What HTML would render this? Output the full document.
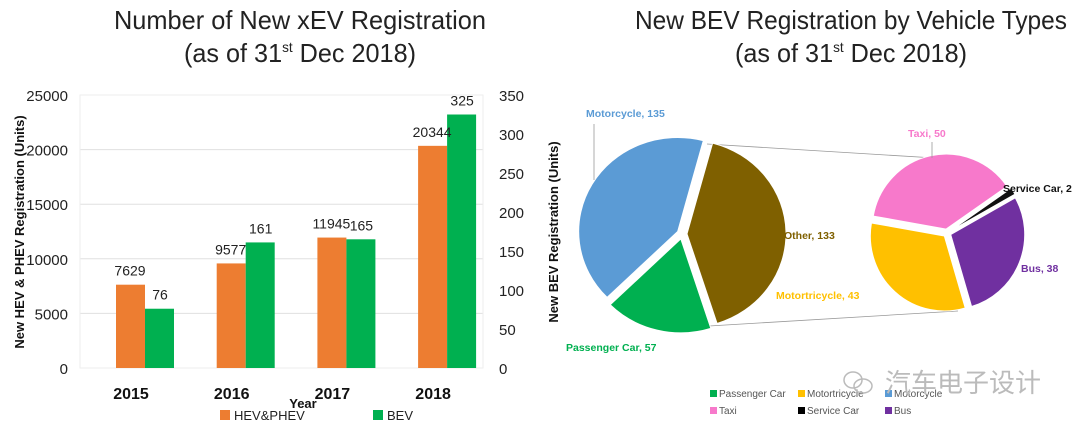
<!DOCTYPE html>
<html><head><meta charset="utf-8"><style>
html,body{margin:0;padding:0;background:#fff;}
svg{display:block;font-family:"Liberation Sans","Noto Sans CJK SC",sans-serif;}
</style></head><body>
<svg id="s" width="1080" height="431" viewBox="0 0 1080 431">
<text x="300" y="29" font-size="26" text-anchor="middle" textLength="372" lengthAdjust="spacingAndGlyphs" fill="#222">Number of New xEV  Registration</text>
<text x="300" y="62" font-size="26" text-anchor="middle" textLength="232" lengthAdjust="spacingAndGlyphs" fill="#222">(as of 31<tspan font-size="14" dy="-10">st</tspan><tspan dy="10"> Dec 2018)</tspan></text>
<text x="851" y="29" font-size="26" text-anchor="middle" textLength="432" lengthAdjust="spacingAndGlyphs" fill="#222">New BEV Registration by Vehicle Types</text>
<text x="851" y="62" font-size="26" text-anchor="middle" textLength="232" lengthAdjust="spacingAndGlyphs" fill="#222">(as of 31<tspan font-size="14" dy="-10">st</tspan><tspan dy="10"> Dec 2018)</tspan></text>
<g id="bar"></g>
<g id="pie"></g>
<text x="885" y="392" font-size="26" fill="#bbb">汽车电子设计</text>
<g fill="none" stroke="#bbb" stroke-width="1.5"><ellipse cx="853" cy="380" rx="9" ry="8"/><ellipse cx="863" cy="386" rx="9" ry="7"/></g>
</svg>
<script>
const NS="http://www.w3.org/2000/svg";
function mk(p,t,a){const e=document.createElementNS(NS,t);for(const k in a)e.setAttribute(k,a[k]);p.appendChild(e);return e;}
// ---- bar chart data ----
const years=["2015","2016","2017","2018"];
const hevValues=[7629,9577,11945,20344];
const bevValues=[76,161,165,325];
const leftTicks=[0,5000,10000,15000,20000,25000];
const rightTicks=[0,50,100,150,200,250,300,350];
// ---- pie data ----
const mainLabels=["Other","Passenger Car","Motorcycle"];
const mainValues=[133,57,135];
const subLabels=["Taxi","Service Car","Bus","Motortricycle"];
const subValues=[50,2,38,43];

const B=document.getElementById('bar');
const x0=80,x1=483,yb=368,yt=95;
const yL=v=>yb-(v/25000)*(yb-yt);
const yR=v=>yb-(v/350)*(yb-yt);
const cx=i=>145+i*100.7;
leftTicks.forEach(t=>{
 if(t>0){const l=mk(B,'line',{x1:x0,x2:x1,y1:yL(t),y2:yL(t),stroke:'#e0e0e0','stroke-width':1});
 }
 const tx=mk(B,'text',{x:68,y:yL(t)+6,'font-size':15,'text-anchor':'end',fill:'#222'});tx.textContent=t;
 
});
const ax=mk(B,'line',{x1:x0,x2:x1,y1:yb,y2:yb,stroke:'#d0d0d0'});

const fr=mk(B,'rect',{x:x0,y:yt,width:x1-x0,height:yb-yt,fill:'none',stroke:'#eee'});

rightTicks.forEach(t=>{
 const tx=mk(B,'text',{x:499,y:yR(t)+6,'font-size':15,fill:'#222'});tx.textContent=t;
 
});
years.forEach((y,i)=>{
 const c=cx(i);
 const r1=mk(B,'rect',{x:c-29,y:yL(hevValues[i]),width:29,height:yb-yL(hevValues[i]),fill:'#ed7d31'});
 
 const r2=mk(B,'rect',{x:c,y:yR(bevValues[i]),width:29,height:yb-yR(bevValues[i]),fill:'#00b050'});
 
 const l1=mk(B,'text',{x:c-15,y:yL(hevValues[i])-9,'font-size':14,'text-anchor':'middle',fill:'#222'});l1.textContent=hevValues[i];
 
 const l2=mk(B,'text',{x:c+15,y:yR(bevValues[i])-9,'font-size':14,'text-anchor':'middle',fill:'#222'});l2.textContent=bevValues[i];
 
 const yl=mk(B,'text',{x:c-14,y:399,'font-size':16,'font-weight':'bold','text-anchor':'middle',fill:'#111'});yl.textContent=y;
 
});
let t=mk(B,'text',{x:303,y:408,'font-size':13,'font-weight':'bold','text-anchor':'middle',fill:'#111'});t.textContent='Year';

t=mk(B,'text',{transform:'translate(24,232) rotate(-90)','font-size':13,'font-weight':'bold','text-anchor':'middle',fill:'#111'});t.textContent='New HEV & PHEV Registration (Units)';

t=mk(B,'text',{transform:'translate(558,232) rotate(-90)','font-size':13,'font-weight':'bold','text-anchor':'middle',fill:'#111'});t.textContent='New BEV Registration (Units)';

let s=mk(B,'rect',{x:220,y:410,width:10,height:10,fill:'#ed7d31'});
t=mk(B,'text',{x:234,y:420,'font-size':13,fill:'#222'});t.textContent='HEV&PHEV';
s=mk(B,'rect',{x:373,y:410,width:10,height:10,fill:'#00b050'});
t=mk(B,'text',{x:387,y:420,'font-size':13,fill:'#222'});t.textContent='BEV';

// ---- pies ----
const P=document.getElementById('pie');
function slices(vals,cxp,cyp,rx,ry,start,ex,colors,names){
 const tot=vals.reduce((a,b)=>a+b,0);let a=start;
 vals.forEach((v,i)=>{
  const sw=v/tot*360,a0=a*Math.PI/180,a1=(a+sw)*Math.PI/180,am=(a+sw/2)*Math.PI/180;
  const ox=cxp+ex*Math.sin(am),oy=cyp-ex*Math.cos(am);
  const p=`M${ox},${oy} L${ox+rx*Math.sin(a0)},${oy-ry*Math.cos(a0)} A${rx},${ry} 0 ${sw>180?1:0} 1 ${ox+rx*Math.sin(a1)},${oy-ry*Math.cos(a1)} Z`;
  const e=mk(P,'path',{d:p,fill:colors[i],stroke:'#fff','stroke-width':1});
  
  
  a+=sw;
 });
}
let ln=mk(P,'line',{x1:707,y1:144,x2:935,y2:158,stroke:'#999','stroke-width':0.8});
ln=mk(P,'line',{x1:709,y1:326,x2:958,y2:311,stroke:'#999','stroke-width':0.8});
slices(mainValues,682,234,99,94,15,5,['#7f6000','#00b050','#5b9bd5'],mainLabels);
slices(subValues,947,233,74,75,-80,4,['#f779cb','#111111','#7030a0','#ffc000'],subLabels);
const labs=[
 ['Motorcycle, '+mainValues[2],586,117,'#5b9bd5'],
 ['Passenger Car, '+mainValues[1],566,351,'#00b050'],
 ['Other, '+mainValues[0],784,239,'#7f6000'],
 ['Taxi, '+subValues[0],908,137,'#f779cb'],
 ['Service Car, '+subValues[1],1003,192,'#111'],
 ['Bus, '+subValues[2],1021,272,'#7030a0'],
 ['Motortricycle, '+subValues[3],776,299,'#ffc000']];
labs.forEach(l=>{const e=mk(P,'text',{x:l[1],y:l[2],'font-size':10.5,'font-weight':'bold',fill:l[3]});e.textContent=l[0];
 });
ln=mk(P,'polyline',{points:'594,124 594,180',fill:'none',stroke:'#999','stroke-width':0.8});
ln=mk(P,'polyline',{points:'932,142 932,158',fill:'none',stroke:'#999','stroke-width':0.8});
const leg=[['Passenger Car','#00b050',710,397],['Motortricycle','#ffc000',798,397],['Motorcycle','#5b9bd5',885,397],['Taxi','#f779cb',710,414],['Service Car','#000',798,414],['Bus','#7030a0',885,414]];
leg.forEach(l=>{const r=mk(P,'rect',{x:l[2],y:l[3]-7,width:7,height:7,fill:l[1]});
 const e=mk(P,'text',{x:l[2]+9,y:l[3],'font-size':10,fill:'#555'});e.textContent=l[0];
 });
</script>
</body></html>
